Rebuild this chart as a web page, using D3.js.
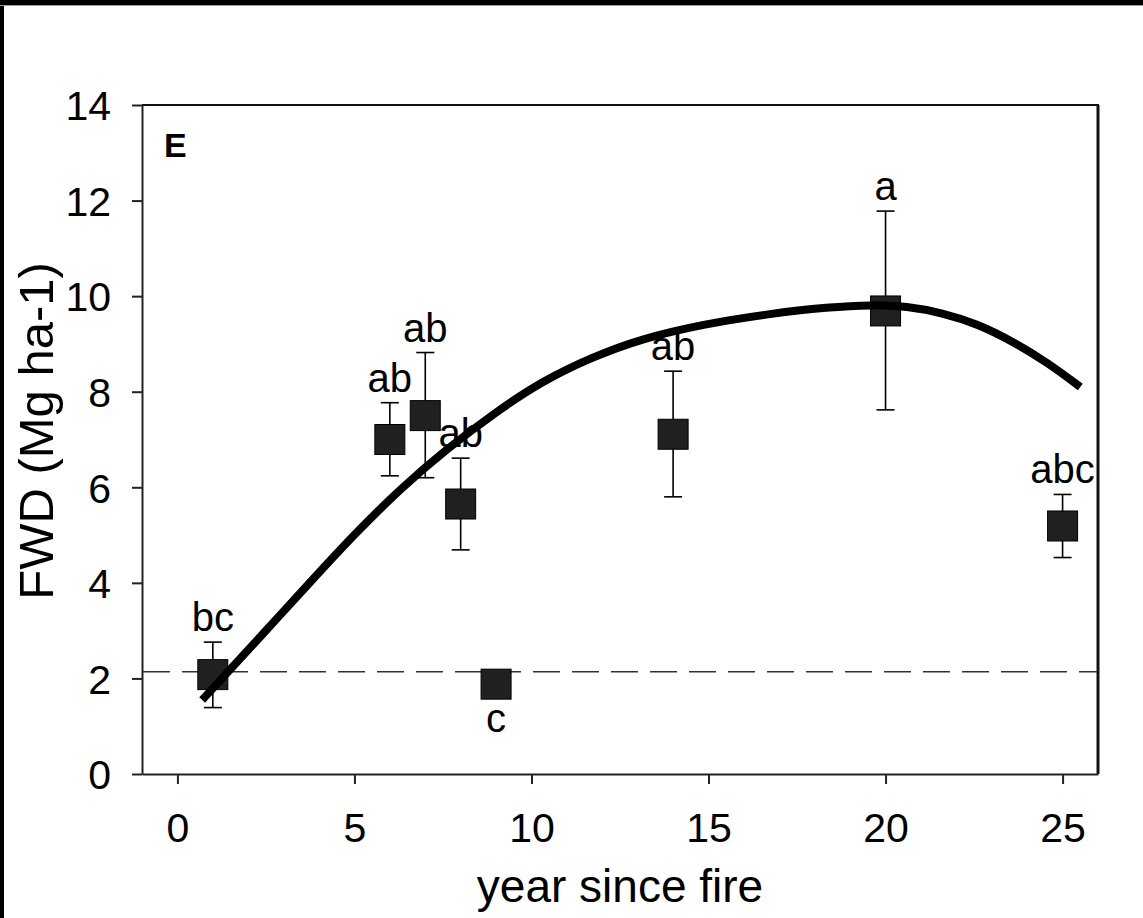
<!DOCTYPE html>
<html>
<head>
<meta charset="utf-8">
<script src="https://cdn.jsdelivr.net/npm/d3@7"></script>
<style>
  body { margin: 0; background: #fff; }
  svg text { font-family: Arial, "Liberation Sans", sans-serif; fill: #000; }
</style>
</head>
<body>
<svg id="chart" width="1143" height="918"></svg>
<script>

// sampled years and FWD means with error bar ends (Mg ha-1)
var years    = [1, 6, 7, 8, 9, 14, 20, 25];
var fwdMean  = [2.08, 7.0, 7.5, 5.65, 1.88, 7.11, 9.69, 5.19];
var fwdHigh  = [2.76, 7.77, 8.82, 6.61, 1.88, 8.43, 11.78, 5.85];
var fwdLow   = [1.39, 6.24, 6.2, 4.69, 1.88, 5.8, 7.62, 4.53];
var letters  = ["bc", "ab", "ab", "ab", "c", "ab", "a", "abc"];
var letterBelow = [false, false, false, false, true, false, false, false];

// fitted curve
var fitYear = [0.7, 1.22, 2.5, 3.67, 5.0, 6.3, 7.6, 9.0, 10.3, 11.7, 13.1, 14.9, 16.7, 18.4, 19.6, 20.6, 21.6, 22.6, 23.6, 24.6, 25.5];
var fitFwd  = [1.55, 1.97, 3.0, 3.95, 5.02, 5.97, 6.8, 7.58, 8.22, 8.72, 9.11, 9.42, 9.63, 9.77, 9.82, 9.79, 9.65, 9.42, 9.05, 8.6, 8.1];

// unburned reference level (dashed line)
var controlLevel = 2.14;

var xTicks = [0, 5, 10, 15, 20, 25];
var yTicks = [0, 2, 4, 6, 8, 10, 12, 14];
var panelLabel = "E";
var xTitle = "year since fire";
var yTitle = "FWD (Mg ha-1)";

(function(){

  var svg = d3.select("#chart");
  var left = 142, top = 105, right = 1098, bottom = 774;

  // black edge of the scanned figure
  svg.append("rect").attr("x", 0).attr("y", 0).attr("width", 1143).attr("height", 5).attr("fill", "#000");
  svg.append("rect").attr("x", 0).attr("y", 0).attr("width", 4).attr("height", 918).attr("fill", "#000");
  svg.append("line").attr("x1", 0).attr("x2", 1143).attr("y1", 5.5).attr("y2", 5.5)
    .attr("stroke", "#999").attr("stroke-width", 1);

  var x = d3.scaleLinear().domain([-1, 26]).range([left, right]);
  var y = d3.scaleLinear().domain([0, 14]).range([bottom, top]);

  var data = years.map(function(d, i){
    return {x: d, y: fwdMean[i], hi: fwdHigh[i], lo: fwdLow[i], letter: letters[i], below: letterBelow[i]};
  });
  var fit = fitYear.map(function(d, i){ return [d, fitFwd[i]]; });

  // frame: top and right edges
  svg.append("line").attr("x1", left).attr("x2", right + 1).attr("y1", top).attr("y2", top)
    .attr("stroke", "#111").attr("stroke-width", 2);
  svg.append("line").attr("x1", right).attr("x2", right).attr("y1", top).attr("y2", bottom)
    .attr("stroke", "#111").attr("stroke-width", 3);

  var yAxis = d3.axisLeft(y)
    .tickValues(yTicks)
    .tickSize(10)
    .tickPadding(21)
    .tickSizeOuter(0);

  var gy = svg.append("g")
    .attr("transform", "translate(" + left + ",0)")
    .call(yAxis);

  var xAxis = d3.axisBottom(x)
    .tickValues(xTicks)
    .tickSize(10)
    .tickPadding(29)
    .tickSizeOuter(0);

  var gx = svg.append("g")
    .attr("transform", "translate(0," + bottom + ")")
    .call(xAxis);

  [gx, gy].forEach(function(g){
    g.attr("font-size", null).attr("font-family", null);
    g.select(".domain").attr("stroke", "#222").attr("stroke-width", 2);
    g.selectAll(".tick line").attr("stroke", "#222").attr("stroke-width", 2);
    g.selectAll(".tick text").style("font-size", "41px").attr("fill", "#000");
  });
  gy.selectAll(".tick text").attr("dy", "0.36em");

  // dashed reference line
  svg.append("line")
    .attr("x1", left + 1).attr("x2", right - 1)
    .attr("y1", y(controlLevel)).attr("y2", y(controlLevel))
    .attr("stroke", "#333").attr("stroke-width", 1.5)
    .attr("stroke-dasharray", "27,12");

  // error bars
  var bars = svg.selectAll("g.err")
    .data(data.filter(function(d){ return d.hi > d.lo; }))
    .enter().append("g")
    .attr("class", "err")
    .attr("stroke", "#000")
    .attr("stroke-width", 1.6);

  bars.append("line")
    .attr("x1", function(d){ return x(d.x); }).attr("x2", function(d){ return x(d.x); })
    .attr("y1", function(d){ return y(d.lo); }).attr("y2", function(d){ return y(d.hi); });
  bars.append("line")
    .attr("x1", function(d){ return x(d.x) - 9; }).attr("x2", function(d){ return x(d.x) + 9; })
    .attr("y1", function(d){ return y(d.hi); }).attr("y2", function(d){ return y(d.hi); });
  bars.append("line")
    .attr("x1", function(d){ return x(d.x) - 9; }).attr("x2", function(d){ return x(d.x) + 9; })
    .attr("y1", function(d){ return y(d.lo); }).attr("y2", function(d){ return y(d.lo); });

  // square markers
  var size = 30;
  svg.selectAll("rect.pt")
    .data(data)
    .enter().append("rect")
    .attr("class", "pt")
    .attr("x", function(d){ return x(d.x) - size / 2; })
    .attr("y", function(d){ return y(d.y) - size / 2; })
    .attr("width", size).attr("height", size)
    .attr("fill", "#202020")
    .attr("stroke", "#000")
    .attr("stroke-width", 1);

  // fitted curve
  var line = d3.line()
    .x(function(d){ return x(d[0]); })
    .y(function(d){ return y(d[1]); })
    .curve(d3.curveBasis);

  svg.append("path")
    .datum(fit)
    .attr("d", line)
    .attr("fill", "none")
    .attr("stroke", "#000")
    .attr("stroke-width", 8);

  // significance letters
  svg.selectAll("text.letter")
    .data(data)
    .enter().append("text")
    .attr("class", "letter")
    .attr("x", function(d){ return x(d.x); })
    .attr("y", function(d){ return d.below ? y(d.y) + size / 2 + 33 : y(d.hi) - 11; })
    .attr("text-anchor", "middle")
    .style("font-size", "40px")
    .text(function(d){ return d.letter; });

  svg.append("text")
    .attr("x", 164).attr("y", 157)
    .style("font-size", "34px").style("font-weight", "bold")
    .text(panelLabel);

  svg.append("text")
    .attr("x", (left + right) / 2).attr("y", 902)
    .attr("text-anchor", "middle")
    .style("font-size", "46px")
    .text(xTitle);

  svg.append("text")
    .attr("transform", "translate(53," + 431 + ") rotate(-90)")
    .attr("text-anchor", "middle")
    .style("font-size", "49px")
    .text(yTitle);

})();
</script>
</body>
</html>
